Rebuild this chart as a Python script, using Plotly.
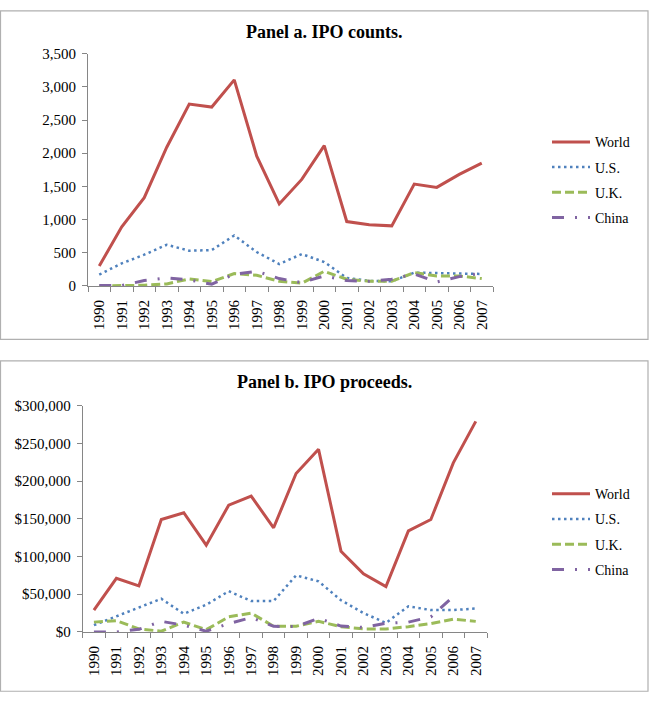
import plotly.graph_objects as go

years = [str(y) for y in range(1990, 2008)]

# Panel a: IPO counts
world_counts = [300, 890, 1330, 2090, 2740, 2695, 3105, 1955, 1235, 1605, 2115, 970, 920, 905, 1535, 1485, 1680, 1850]
us_counts = [170, 340, 470, 620, 530, 540, 760, 510, 330, 480, 360, 120, 75, 70, 200, 195, 185, 180]
uk_counts = [0, 5, 10, 30, 105, 65, 185, 160, 70, 40, 220, 100, 70, 70, 200, 150, 150, 110]
china_counts = [5, 5, 80, 120, 90, 25, 175, 220, 110, 50, 150, 80, 70, 100, 180, 60, 140, 190]

# Panel b: IPO proceeds
world_proceeds = [29000, 71000, 61000, 149000, 158000, 115000, 168000, 180000, 138000, 210000, 242000, 107000, 77000, 60000, 134000, 149000, 224000, 279000]
us_proceeds = [9000, 21000, 33000, 44000, 24000, 36000, 54000, 41000, 41000, 75000, 67000, 42000, 25000, 12000, 34000, 29000, 29000, 31000]
uk_proceeds = [13000, 15000, 4000, 1000, 13000, 3000, 20000, 25000, 7500, 7500, 14000, 7000, 4000, 4000, 7000, 11000, 17000, 14000]
china_proceeds = [0, 0, 3500, 14000, 9000, 1000, 11000, 19000, 7500, 7000, 18000, 7800, 6000, 11500, 13000, 20000, 47000, None]

series_names = ["World", "U.S.", "U.K.", "China"]
colors = ["#C0504D", "#4F81BD", "#9BBB59", "#8064A2"]
dashes = ["solid", "2.5px,3.5px", "9px,4px", "12px,11px,2px,11px"]
widths = [3, 2.5, 3, 3]

W, H = 652, 711
FONT = "Liberation Serif, Times New Roman, serif"

def px_x(v):
    return v / W

def px_y(v):
    return (H - v) / H

fig = go.Figure()

panels = [
    ([world_counts, us_counts, uk_counts, china_counts], "x", "y", "legend"),
    ([world_proceeds, us_proceeds, uk_proceeds, china_proceeds], "x2", "y2", "legend2"),
]
for data, xa, ya, lg in panels:
    for i, vals in enumerate(data):
        fig.add_trace(go.Scatter(
            x=years, y=vals, name=series_names[i], mode="lines",
            xaxis=xa, yaxis=ya, legend=lg, legendgroup=lg + series_names[i],
            line=dict(color=colors[i], width=widths[i], dash=dashes[i]),
            connectgaps=False, hoverinfo="skip",
        ))

axis_common = dict(
    showline=True, linecolor="#868686", linewidth=1,
    ticks="outside", ticklen=5, tickcolor="#868686",
    showgrid=False, zeroline=False,
    tickfont=dict(family=FONT, size=15, color="#000000"),
)

legend_common = dict(
    xanchor="left", yanchor="top",
    traceorder="grouped", tracegroupgap=4, itemwidth=38,
    font=dict(family=FONT, size=14, color="#000000"),
    bgcolor="rgba(0,0,0,0)",
)

fig.update_layout(
    width=W, height=H,
    margin=dict(l=0, r=0, t=0, b=0),
    paper_bgcolor="white", plot_bgcolor="white",
    showlegend=True,
    xaxis=dict(domain=[px_x(88), px_x(493)], anchor="y", type="category",
               range=[-0.5, 17.5], tickson="boundaries", tickangle=-90,
               ticklabelstandoff=7, **axis_common),
    yaxis=dict(domain=[px_y(284.3), px_y(46.7)], anchor="x", range=[0, 3500],
               dtick=500, tickformat=",", ticklabelstandoff=3, **axis_common),
    xaxis2=dict(domain=[px_x(82.7), px_x(487)], anchor="y2", type="category",
                range=[-0.5, 17.5], tickson="boundaries", tickangle=-90,
                ticklabelstandoff=7, **axis_common),
    yaxis2=dict(domain=[px_y(638.3), px_y(406.7)], anchor="x2", range=[0, 300000],
                dtick=50000, tickformat=",", tickprefix="$", ticklabelstandoff=3,
                **axis_common),
    legend=dict(x=px_x(547), y=px_y(121), **legend_common),
    legend2=dict(x=px_x(547), y=px_y(481), **legend_common),
    annotations=[
        dict(text="<b>Panel a. IPO counts.</b>", x=px_x(324), y=px_y(24.7),
             xref="paper", yref="paper", xanchor="center", yanchor="middle",
             showarrow=False, font=dict(family=FONT, size=18, color="#000000")),
        dict(text="<b>Panel b. IPO proceeds.</b>", x=px_x(324), y=px_y(382.7),
             xref="paper", yref="paper", xanchor="center", yanchor="middle",
             showarrow=False, font=dict(family=FONT, size=18, color="#000000")),
    ],
    shapes=[
        dict(type="rect", xref="paper", yref="paper",
             x0=px_x(0.5), x1=px_x(648), y0=px_y(339), y1=px_y(3),
             line=dict(color="#B0B0B0", width=1.2)),
        dict(type="rect", xref="paper", yref="paper",
             x0=px_x(0.5), x1=px_x(648), y0=px_y(699), y1=px_y(361),
             line=dict(color="#B0B0B0", width=1.2)),
    ],
)

fig.write_html("out.html")
